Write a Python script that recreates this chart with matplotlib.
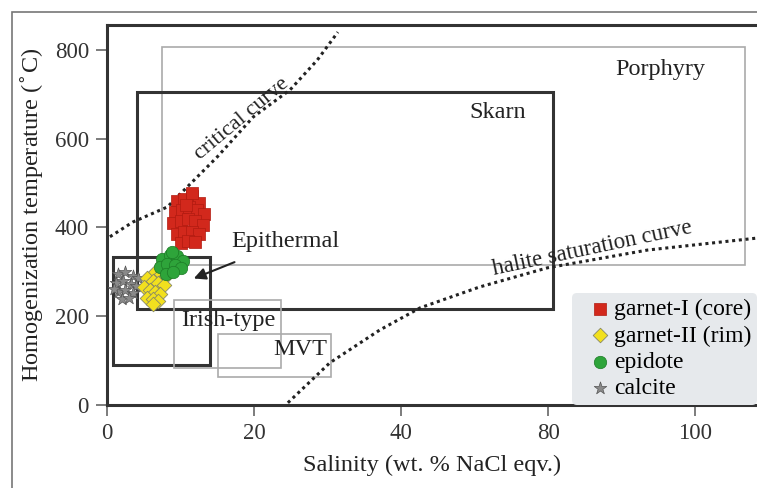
import matplotlib.pyplot as plt
from matplotlib.patches import Rectangle

# fluid inclusion data (salinity, homogenization temperature)
garnet1_x = [9.5, 10.5, 11.5, 12.5, 9.2, 10.2, 11.2, 12.2, 13.2, 9.0, 10.0, 11.0,
             12.0, 13.0, 9.5, 10.5, 11.5, 12.5, 10.0, 11.0, 12.0, 11.5, 10.8]
garnet1_y = [460, 465, 470, 455, 435, 440, 445, 440, 430, 410, 415, 420,
             415, 405, 385, 390, 390, 385, 365, 370, 368, 478, 450]
garnet2_x = [7.5, 8.3, 6.5, 7.3, 8.0, 5.5, 6.3, 7.0, 7.8, 5.0, 5.8, 6.5, 7.2,
             5.5, 6.2, 7.0, 6.3]
garnet2_y = [318, 310, 300, 295, 290, 285, 280, 275, 270, 265, 260, 255, 250,
             240, 238, 235, 228]
epidote_x = [7.5, 8.5, 9.5, 10.3, 7.2, 8.2, 9.2, 10.0, 8.0, 9.0, 8.8]
epidote_y = [330, 338, 335, 325, 310, 318, 315, 308, 295, 300, 345]
calcite_x = [1.5, 2.5, 3.5, 4.2, 1.2, 2.2, 3.2, 4.0, 1.5, 2.5, 3.5, 2.0, 3.0, 1.0]
calcite_y = [295, 300, 290, 285, 275, 280, 272, 268, 255, 260, 252, 238, 240, 262]

# curves
crit_x = [0.4, 3.5, 8.2, 10.9, 15.0, 19.9, 24.9, 28.6, 31.4]
crit_y = [379, 412, 446, 491, 559, 649, 710, 777, 840]
halite_x = [24.6, 30.3, 37.1, 42.6, 50.7, 59.9, 73.5, 88.4]
halite_y = [5, 95, 169, 219, 266, 309, 349, 376]

# deposit fields: name, x0, x1, y0, y1, thick
fields = [('Porphyry', 7.5, 86.8, 315, 807, False),
          ('Skarn', 4.1, 60.7, 216, 705, True),
          ('Epithermal', 0.8, 14.0, 90, 333, True),
          ('Irish-type', 9.1, 23.7, 83, 237, False),
          ('MVT', 15.1, 30.5, 63, 160, False)]

xtick_pos = [0, 20, 40, 60, 80]
xtick_lab = ['0', '20', '40', '80', '100']
ytick_pos = [0, 200, 400, 600, 800]

plt.rcParams['font.family'] = ['Liberation Serif', 'DejaVu Serif']

fig = plt.figure(figsize=(7.57, 4.88), dpi=100)
fig.patches.append(Rectangle((12 / 757, -0.1), 1.2, (488 - 12) / 488 + 0.1,
                             transform=fig.transFigure, fill=False,
                             edgecolor='#777777', lw=1.2))
ax = fig.add_axes([107 / 757, 83 / 488, 1 - 107 / 757, (405 - 25) / 488])
ax.set_xlim(0, 88.4)
ax.set_ylim(0, 856)

for name, x0, x1, y0, y1, thick in fields:
    ax.add_patch(Rectangle((x0, y0), x1 - x0, y1 - y0, fill=False,
                           edgecolor='#333333' if thick else '#aaaaaa',
                           lw=2.2 if thick else 1.2, zorder=2))

ax.plot(crit_x, crit_y, ls=(0, (1, 1.2)), lw=2.2, color='#222222', zorder=3)
ax.plot(halite_x, halite_y, ls=(0, (1, 1.2)), lw=2.2, color='#222222', zorder=3)

ax.scatter(garnet1_x, garnet1_y, marker='s', s=70, c='#d2281c',
           edgecolors='#b01a10', lw=0.5, zorder=4, label='garnet-I (core)')
ax.scatter(calcite_x, calcite_y, marker='*', s=90, c='#8a8a8a',
           edgecolors='#555555', lw=0.5, zorder=4)
ax.scatter(garnet2_x, garnet2_y, marker='D', s=55, c='#f2e01e',
           edgecolors='#888866', lw=0.6, zorder=5, label='garnet-II (rim)')
ax.scatter(epidote_x, epidote_y, marker='o', s=80, c='#2ea43a',
           edgecolors='#1c7a26', lw=0.5, zorder=5, label='epidote')
ax.scatter([], [], marker='*', s=90, c='#8a8a8a', edgecolors='#555555',
           lw=0.5, label='calcite')

tk = dict(fontsize=17.5, color='#222222')
ax.text(75.2, 755, 'Porphyry', ha='center', va='center', **tk)
ax.text(53.2, 658, 'Skarn', ha='center', va='center', **tk)
ax.text(16.5, 190, 'Irish-type', ha='center', va='center', **tk)
ax.text(26.3, 124, 'MVT', ha='center', va='center', **tk)
ax.annotate('Epithermal', xy=(11.8, 285), xytext=(24.3, 368),
            ha='center', va='center', fontsize=17.5, color='#222222',
            arrowprops=dict(arrowstyle='-|>', color='#222222', lw=1.5,
                            shrinkA=14, shrinkB=0))
ax.text(18.3, 645, 'critical curve', rotation=40, ha='center', va='center',
        fontsize=16, color='#222222')
ax.text(66.0, 352, 'halite saturation curve', rotation=12, ha='center',
        va='center', fontsize=16.5, color='#222222')

leg = ax.legend(loc='lower right', frameon=True, fontsize=17,
                handletextpad=-0.3, handlelength=1.8, borderpad=0.25,
                labelspacing=0.2, borderaxespad=0.0)
leg.get_frame().set_facecolor('#e6e9ec')
leg.get_frame().set_edgecolor('none')
leg.get_frame().set_alpha(1)

for s in ['left', 'bottom', 'top']:
    ax.spines[s].set_linewidth(2.2)
    ax.spines[s].set_color('#333333')
ax.spines['right'].set_visible(False)

ax.set_xticks(xtick_pos)
ax.set_xticklabels(xtick_lab)
ax.set_yticks(ytick_pos)
ax.tick_params(direction='out', length=8, width=1.2, color='#666666',
               labelsize=16.5, labelcolor='#333333', pad=5)

ax.set_xlabel('Salinity (wt. % NaCl eqv.)', fontsize=17.5, color='#222222',
              labelpad=8)
ax.set_ylabel('Homogenization temperature ($^{\\circ}$C)', fontsize=17.5,
              color='#222222', labelpad=6)

fig.savefig('out.png', dpi=100)
